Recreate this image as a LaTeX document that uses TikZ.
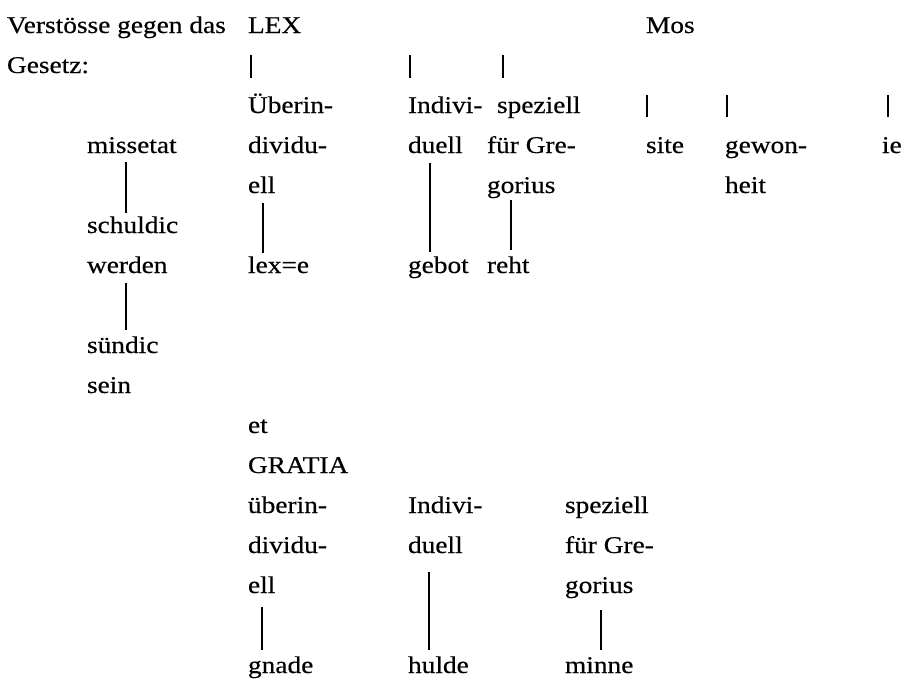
\documentclass[tikz,border=0pt]{standalone}
\usepackage{fontspec}
\setmainfont{Liberation Serif}[FakeStretch=1.14,FakeBold=0.4]
\begin{document}
\begin{tikzpicture}[x=0.5pt,y=-0.5pt,
  lbl/.style={anchor=base west,inner sep=0pt,outer sep=0pt,font=\fontsize{12}{14}\selectfont},
  bar/.style={line width=0.6pt,line cap=butt}]
\useasboundingbox (0,0) rectangle (906,680);
% row 1
\node[lbl] (vg) at (7,33) {Verstösse gegen das};
\node[lbl] (lex) at (248,33) {LEX};
\node[lbl] (mos) at (646,33) {Mos};
% row 2
\node[lbl] (ges) at (7,73) {Gesetz:};
% row 3
\node[lbl] (ub) at (248,113) {Überin-};
\node[lbl] (indA) at (408,113) {Indivi-};
\node[lbl] (spA) at (497,113) {speziell};
% row 4
\node[lbl] (miss) at (87,153) {missetat};
\node[lbl] (divA) at (248,153) {dividu-};
\node[lbl] (duA) at (408,153) {duell};
\node[lbl] (fgA) at (487,153) {für Gre-};
\node[lbl] (site) at (646,153) {site};
\node[lbl] (gew) at (725,153) {gewon-};
\node[lbl] (ie) at (882,153) {ie};
% row 5
\node[lbl] (ellA) at (248,193) {ell};
\node[lbl] (gorA) at (487,193) {gorius};
\node[lbl] (heit) at (725,193) {heit};
% row 6-7
\node[lbl] (schul) at (87,233) {schuldic};
\node[lbl] (werd) at (87,273) {werden};
\node[lbl] (lexe) at (248,273) {lex=e};
\node[lbl] (geb) at (408,273) {gebot};
\node[lbl] (reht) at (487,273) {reht};
% rows 9-10
\node[lbl] (sund) at (87,353) {sündic};
\node[lbl] (sein) at (87,393) {sein};
% lower block
\node[lbl] (et) at (248,433) {et};
\node[lbl] (grat) at (248,473) {GRATIA};
\node[lbl] (ubB) at (248,513) {überin-};
\node[lbl] (indB) at (408,513) {Indivi-};
\node[lbl] (spB) at (565,513) {speziell};
\node[lbl] (divB) at (248,553) {dividu-};
\node[lbl] (duB) at (408,553) {duell};
\node[lbl] (fgB) at (565,553) {für Gre-};
\node[lbl] (ellB) at (248,593) {ell};
\node[lbl] (gorB) at (565,593) {gorius};
\node[lbl] (gnade) at (248,673) {gnade};
\node[lbl] (hulde) at (408,673) {hulde};
\node[lbl] (minne) at (565,673) {minne};
% short bars (row 2)
\draw[bar] ([shift={(3,22)}]lex.base west) -- ([shift={(3,-35)}]ub.base west);
\draw[bar] ([shift={(2,-58)}]indA.base west) -- ([shift={(2,-35)}]indA.base west);
\draw[bar] ([shift={(6,-58)}]spA.base west) -- ([shift={(6,-35)}]spA.base west);
% short bars (row 3, Mos)
\draw[bar] ([shift={(1,62)}]mos.base west) -- ([shift={(1,-36)}]site.base west);
\draw[bar] ([shift={(2,-58)}]gew.base west) -- ([shift={(2,-36)}]gew.base west);
\draw[bar] ([shift={(6,-58)}]ie.base west) -- ([shift={(6,-36)}]ie.base west);
% long connectors
\draw[bar] ([shift={(39,9)}]miss.base west) -- ([shift={(39,-20)}]schul.base west);
\draw[bar] ([shift={(39,10)}]werd.base west) -- ([shift={(39,-23)}]sund.base west);
\draw[bar] ([shift={(15,10)}]ellA.base west) -- ([shift={(15,-20)}]lexe.base west);
\draw[bar] ([shift={(22,10)}]duA.base west) -- ([shift={(22,-21)}]geb.base west);
\draw[bar] ([shift={(24,7)}]gorA.base west) -- ([shift={(24,-23)}]reht.base west);
\draw[bar] ([shift={(14,14)}]ellB.base west) -- ([shift={(14,-23)}]gnade.base west);
\draw[bar] ([shift={(21,19)}]duB.base west) -- ([shift={(21,-23)}]hulde.base west);
\draw[bar] ([shift={(36,17)}]gorB.base west) -- ([shift={(36,-23)}]minne.base west);
\end{tikzpicture}
\end{document}
